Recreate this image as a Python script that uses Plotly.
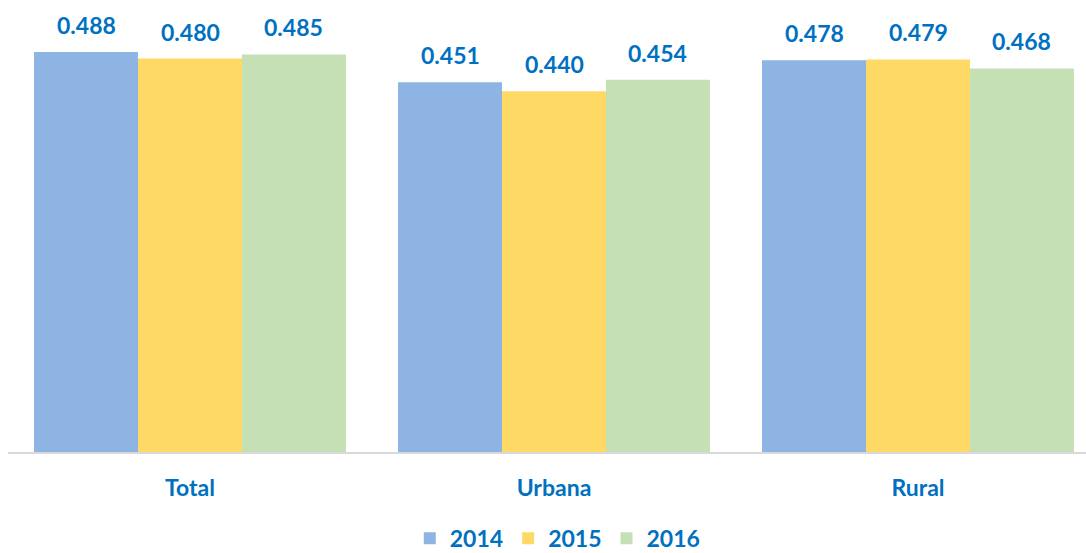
import plotly.graph_objects as go

categories = ["Total", "Urbana", "Rural"]
years = ["2014", "2015", "2016"]
values_2014 = [0.488, 0.451, 0.478]
values_2015 = [0.480, 0.440, 0.479]
values_2016 = [0.485, 0.454, 0.468]
series = [values_2014, values_2015, values_2016]
colors = ["#8EB4E3", "#FFD966", "#C5E0B4"]
text_color = "#0070C0"
font_family = "Lato"
bargap = 0.143

fig = go.Figure()
for name, vals, col in zip(years, series, colors):
    fig.add_trace(go.Bar(x=categories, y=vals, name=name, marker_color=col,
                         marker_line_width=0))

n = len(series)
w = (1 - bargap) / n
for j, vals in enumerate(series):
    for i, v in enumerate(vals):
        fig.add_annotation(x=i + (j - (n - 1) / 2) * w, y=v, xref="x", yref="y",
                           text=f"{v:.3f}", showarrow=False, yanchor="middle",
                           yshift=27,
                           font=dict(family=font_family, size=23, color=text_color,
                                     weight="bold"))

fig.update_layout(
    width=1086, height=553,
    margin=dict(l=8, r=0, t=0, b=101, autoexpand=False),
    plot_bgcolor="white", paper_bgcolor="white",
    barmode="group", bargap=bargap, bargroupgap=0,
    font=dict(family=font_family, color=text_color, size=23, weight="bold"),
    legend=dict(orientation="h", x=0.51, xanchor="center", y=-0.191, yanchor="middle",
                font=dict(family=font_family, size=23, color=text_color, weight="bold")),
)
fig.update_xaxes(range=[-0.5, 2.5 - 14 / 364], showline=True, linecolor="#D9D9D9",
                 linewidth=2, showgrid=False, ticks="", ticklabelstandoff=14,
                 tickfont=dict(family=font_family, size=23, color=text_color, weight="bold"))
fig.update_yaxes(range=[0, 452 / 819.67], visible=False, showgrid=False)

fig.write_html("out.html")
